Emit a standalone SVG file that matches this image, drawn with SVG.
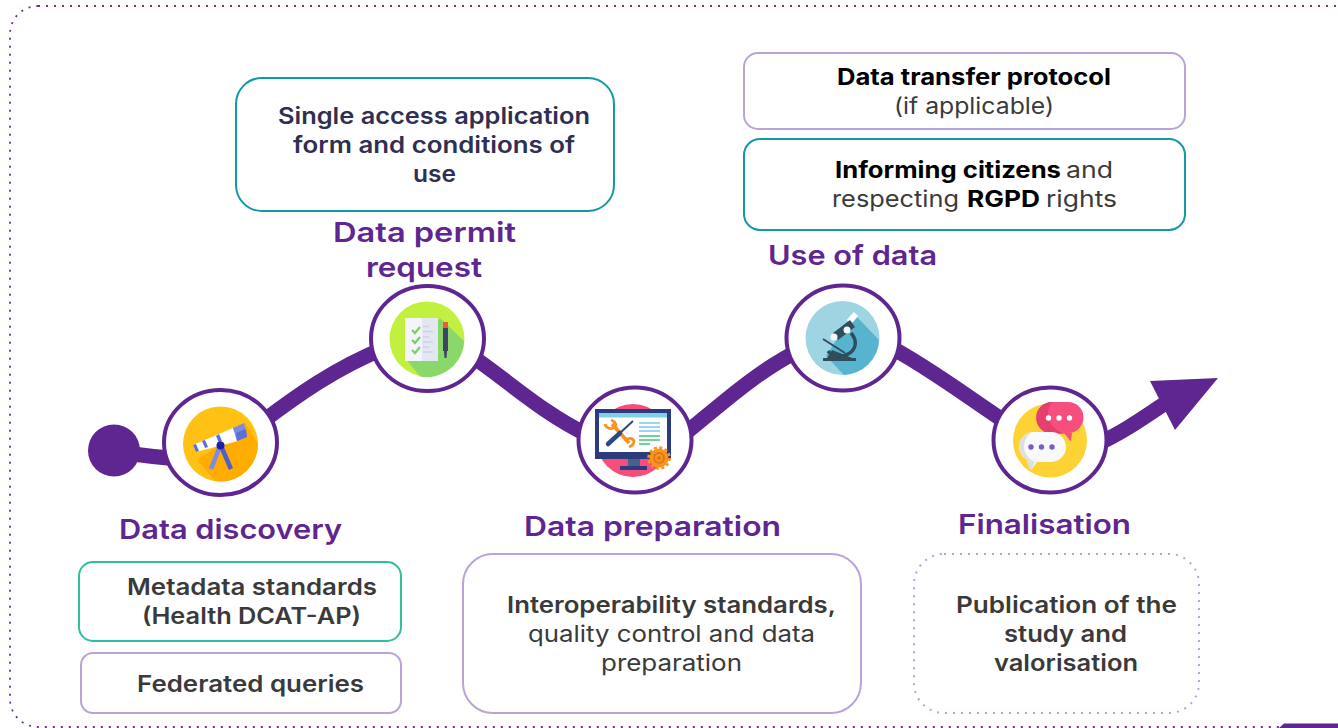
<svg xmlns="http://www.w3.org/2000/svg" width="1338" height="728" viewBox="0 0 1338 728">
<style>
text{font-family:"Inter","Open Sans","Liberation Sans",sans-serif}
.h{font-size:27.5px;font-weight:600;fill:#5f2590}
.b{font-size:22.5px;font-weight:600;fill:#3a3a3a}
.n{font-size:22.5px;font-weight:600;fill:#2f2f52}
.k{font-size:22.5px;font-weight:700;fill:#000}
.r{font-size:22.5px;font-weight:400;fill:#3a3a3a}
.box{fill:#fff;stroke-width:2}
.ring{fill:#fff;stroke:#5f2590;stroke-width:4}
.line{fill:none;stroke:#5f2590;stroke-width:15}
</style>
<rect x="10" y="6" width="1500" height="721" rx="28" fill="none" stroke="#6a2ea0" stroke-width="1.8" stroke-dasharray="2 6"/>
<path d="M1279 728L1284 723.500L1338 723.500V728Z" fill="#5f2590"/>

<g id="connectors">
<path class="line" d="M120 452C145 456 160 458 185 459M262 422C295 397 335 368 385 348M470 355C505 378 540 412 590 436M682 436C715 410 755 372 800 350M890 347C925 365 965 395 1010 425M1095 445C1125 432 1150 413 1185 390"/>
<circle cx="114" cy="450.500" r="26" fill="#5f2590"/>
<path d="M1150 381L1218 378L1175 430Z" fill="#5f2590"/>
</g>

<g id="node-discovery">
<ellipse class="ring" cx="220.500" cy="442.500" rx="56.500" ry="52.500"/>
<circle cx="220.500" cy="444" r="37.500" fill="#ffc114"/>
<path d="M197 460L212 450L245 423L258 444A37.500 37.500 0 0 1 222 481.500L215 481Z" fill="#ffab00"/>
<path d="M193 445L233 428L238 441L196 452Z" fill="#fff"/>
<path d="M193 445L196 444L199 451L196 452ZM202 441L205 440L208 447L205 448ZM216 436L219 434L222 441L219 443Z" fill="#5a6fd8"/>
<path d="M233 428L244 423L247 437L237 441Z" fill="#7c8ae6"/>
<path d="M236 433L246 429L247 437L237 441Z" fill="#5a6fd8"/>
<path d="M220 446L211 469" stroke="#7c8ae6" stroke-width="4.500"/>
<path d="M221 446L231 469" stroke="#4f60c8" stroke-width="4.500"/>
<circle cx="220.500" cy="445.500" r="4" fill="#1c1fae"/>
<text class="h" x="119" y="539" textLength="223" lengthAdjust="spacingAndGlyphs">Data discovery</text>
</g>

<g id="node-permit">
<ellipse class="ring" cx="427.500" cy="338.500" rx="56.500" ry="52.500"/>
<circle cx="427" cy="339" r="37.500" fill="#c2f03f"/>
<path d="M405 358L440 318L464 341A37.500 37.500 0 0 1 420 376.500Z" fill="#8ad86a"/>
<rect x="405" y="318" width="33" height="43" fill="#e3e7f2"/>
<rect x="405" y="318" width="17" height="43" fill="#f3f5fb"/>
<path d="M412 330L415 333L420 327M412 340L415 343L420 337M412 350L415 353L420 347" fill="none" stroke="#78d060" stroke-width="2.200"/>
<path d="M423 326.500h6M423 331.500h10M423 337h6M423 342h10M423 347h6M423 352h10" stroke="#ccd2e4" stroke-width="1.500"/>
<rect x="443" y="322" width="5" height="6" fill="#f05a30"/>
<rect x="443" y="328" width="5" height="23" fill="#3e4468"/>
<path d="M444 351h3l-.5 7h-2Z" fill="#3e4468"/>
<text class="h" x="333" y="242" textLength="183" lengthAdjust="spacingAndGlyphs">Data permit</text>
<text class="h" x="366" y="277" textLength="116" lengthAdjust="spacingAndGlyphs">request</text>
</g>

<g id="node-preparation">
<ellipse class="ring" cx="635" cy="440" rx="56.500" ry="52.500"/>
<circle cx="633" cy="440.500" r="36.500" fill="#f54e7c"/>
<rect x="595" y="409" width="76" height="50" fill="#2c3a7e"/>
<rect x="599" y="413" width="68" height="39" fill="#fff"/>
<rect x="599" y="413" width="68" height="4.500" fill="#7fd0e4"/>
<path d="M612 424L629 443" stroke="#f7931e" stroke-width="3.500"/>
<path d="M605 424C606 428 612 431 616 426C616 423 614 421 611 420M625 441C627 438 632 437 634 441C634 444 632 446 629 447" fill="none" stroke="#f7931e" stroke-width="2.800"/>
<path d="M620 433L633 421" stroke="#2c4a80" stroke-width="2"/>
<path d="M608 444L620 433" stroke="#2c4a80" stroke-width="4.500" stroke-linecap="round"/>
<path d="M639 423h21M639 427h21M639 431h21" stroke="#7cc9f5" stroke-width="1.500"/>
<path d="M639 436h21M639 440h21M639 444h11" stroke="#3fc878" stroke-width="1.500"/>
<rect x="628" y="459" width="12" height="8" fill="#47608f"/>
<rect x="620" y="466" width="27" height="4" fill="#2c3a7e"/>
<circle cx="659" cy="458" r="9.500" fill="#f7931e"/>
<circle cx="659" cy="458" r="10.500" fill="none" stroke="#f7931e" stroke-width="2.500" stroke-dasharray="3 2.500"/>
<circle cx="659" cy="458" r="5" fill="none" stroke="#d9750f" stroke-width="1.500"/>
<circle cx="659" cy="458" r="1.800" fill="#d9750f"/>
<text class="h" x="524" y="536" textLength="257" lengthAdjust="spacingAndGlyphs">Data preparation</text>
</g>

<g id="node-use">
<ellipse class="ring" cx="843" cy="338" rx="56.500" ry="52.500"/>
<circle cx="842.500" cy="338" r="37" fill="#9fd5e3"/>
<path d="M826 356L848 322L856 316L879 340A37 37 0 0 1 844 375Z" fill="#56b4cf"/>
<path d="M849 322L856 314" stroke="#fff" stroke-width="6"/>
<path d="M833 333L850 320L855 327L838 340Z" fill="#2f4d5c"/>
<path d="M823 339L845 353" stroke="#2f4d5c" stroke-width="2"/>
<path d="M851 333C858 341 856 350 848 354C842 358 832 357 828 351" fill="none" stroke="#2f4d5c" stroke-width="3.500"/>
<rect x="823" y="358" width="33" height="3" fill="#2f4d5c"/>
<path d="M827 358L832 350L845 355L852 358Z" fill="#2f4d5c"/>
<circle cx="834" cy="337" r="3.500" fill="#f3f6f7"/>
<circle cx="847" cy="330" r="3.500" fill="#f3f6f7"/>
<text class="h" x="768" y="265" textLength="169" lengthAdjust="spacingAndGlyphs">Use of data</text>
</g>

<g id="node-finalisation">
<ellipse class="ring" cx="1050" cy="440" rx="56.500" ry="52.500"/>
<circle cx="1050" cy="440.500" r="37" fill="#fdd235"/>
<path d="M1052 402H1068A15.500 15.500 0 0 1 1068 433L1072 433L1071 441C1069 440 1067 436 1064 433.500H1052A15.700 15.700 0 0 1 1052 402Z" fill="#f54e7f"/>
<path d="M1052 402A15.700 15.700 0 0 0 1052 433.500H1064C1052 430 1042 416 1052 402Z" fill="#e43f6f"/>
<circle cx="1048.500" cy="418" r="2.700" fill="#fff"/><circle cx="1059" cy="418" r="2.700" fill="#fff"/><circle cx="1069.500" cy="418" r="2.700" fill="#fff"/>
<path d="M1032 432H1051A15 15 0 0 1 1051 462H1037L1031 470C1029 468 1028 464 1027 460A15 15 0 0 1 1032 432Z" fill="#f8f9fd"/>
<path d="M1032 432A15 15 0 0 0 1027 460C1028 464 1029 468 1031 470L1035 462C1020 455 1022 438 1032 432Z" fill="#dcdfe3"/>
<circle cx="1031" cy="447" r="2.700" fill="#7a5cc4"/><circle cx="1041.500" cy="447" r="2.700" fill="#7a5cc4"/><circle cx="1052" cy="447" r="2.700" fill="#7a5cc4"/>
<text class="h" x="958" y="534" textLength="173" lengthAdjust="spacingAndGlyphs">Finalisation</text>
</g>

<g id="box-access">
<rect class="box" x="236" y="78" width="378" height="133" rx="26" stroke="#0f9aa5"/>
<text class="n" x="278" y="124" textLength="312" lengthAdjust="spacingAndGlyphs">Single access application</text>
<text class="n" x="293" y="153" textLength="282" lengthAdjust="spacingAndGlyphs">form and conditions of</text>
<text class="n" x="413" y="182" textLength="43" lengthAdjust="spacingAndGlyphs">use</text>
</g>
<g id="box-transfer">
<rect class="box" x="744" y="53" width="441" height="76" rx="14" stroke="#b9a3d8"/>
<text class="k" x="837" y="85" textLength="274" lengthAdjust="spacingAndGlyphs">Data transfer protocol</text>
<text class="r" x="894" y="114" textLength="160" lengthAdjust="spacingAndGlyphs">(if applicable)</text>
</g>
<g id="box-citizens">
<rect class="box" x="744" y="139" width="441" height="91" rx="16" stroke="#0f9aa5"/>
<text class="k" x="835" y="178" textLength="226" lengthAdjust="spacingAndGlyphs">Informing citizens</text>
<text class="r" x="1066" y="178" textLength="47" lengthAdjust="spacingAndGlyphs">and</text>
<text class="r" x="832" y="207" textLength="127" lengthAdjust="spacingAndGlyphs">respecting</text>
<text class="k" x="967" y="207" textLength="73" lengthAdjust="spacingAndGlyphs">RGPD</text>
<text class="r" x="1046" y="207" textLength="71" lengthAdjust="spacingAndGlyphs">rights</text>
</g>
<g id="box-metadata">
<rect class="box" x="79" y="562" width="322" height="79" rx="14" stroke="#2fbf9f"/>
<text class="b" x="127" y="595" textLength="250" lengthAdjust="spacingAndGlyphs">Metadata standards</text>
<text class="b" x="142" y="624" textLength="219" lengthAdjust="spacingAndGlyphs">(Health DCAT-AP)</text>
</g>
<g id="box-federated">
<rect class="box" x="81" y="653" width="320" height="60" rx="12" stroke="#b9a3d8"/>
<text class="b" x="137" y="692" textLength="227" lengthAdjust="spacingAndGlyphs">Federated queries</text>
</g>
<g id="box-interop">
<rect class="box" x="463" y="554" width="398" height="159" rx="30" stroke="#b9a3d8"/>
<text class="b" x="507" y="613" textLength="329" lengthAdjust="spacingAndGlyphs">Interoperability standards,</text>
<text class="r" x="528" y="642" textLength="287" lengthAdjust="spacingAndGlyphs">quality control and data</text>
<text class="r" x="601" y="671" textLength="141" lengthAdjust="spacingAndGlyphs">preparation</text>
</g>
<g id="box-publication">
<rect x="914" y="554" width="285" height="159" rx="30" fill="#fff" stroke="#b9a3d8" stroke-width="2" stroke-dasharray="2 6"/>
<text class="b" x="956" y="613" textLength="221" lengthAdjust="spacingAndGlyphs">Publication of the</text>
<text class="b" x="1004" y="642" textLength="123" lengthAdjust="spacingAndGlyphs">study and</text>
<text class="b" x="994" y="671" textLength="144" lengthAdjust="spacingAndGlyphs">valorisation</text>
</g>
</svg>
